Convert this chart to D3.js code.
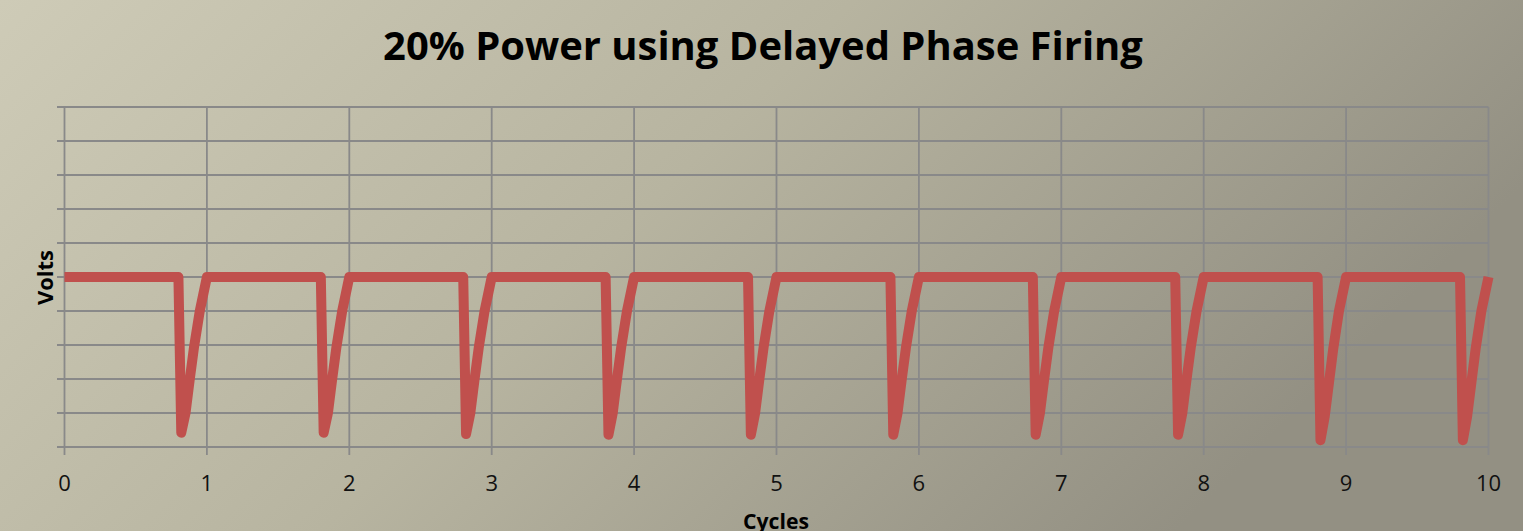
<!DOCTYPE html>
<html>
<head>
<meta charset="utf-8">
<script src="https://cdn.jsdelivr.net/npm/d3@7"></script>
<style>
  body { margin: 0; background: #b8b5a0; }
  svg { display: block; }
</style>
</head>
<body>
<svg id="chart" width="1523" height="531"></svg>
<script>
// waveform: time in cycles, volts on a 0..10 grid
var cycleTime = [0,
    0.80, 0.82, 0.85, 0.88, 0.91, 0.95, 1.00,
    1.80, 1.82, 1.85, 1.88, 1.91, 1.95, 2.00,
    2.80, 2.82, 2.85, 2.88, 2.91, 2.95, 3.00,
    3.80, 3.82, 3.85, 3.88, 3.91, 3.95, 4.00,
    4.80, 4.82, 4.85, 4.88, 4.91, 4.95, 5.00,
    5.80, 5.82, 5.85, 5.88, 5.91, 5.95, 6.00,
    6.80, 6.82, 6.85, 6.88, 6.91, 6.95, 7.00,
    7.80, 7.82, 7.85, 7.88, 7.91, 7.95, 8.00,
    8.80, 8.82, 8.85, 8.88, 8.91, 8.95, 9.00,
    9.80, 9.82, 9.85, 9.88, 9.91, 9.95, 10.00];
var volts = [5,
    5, 0.42, 1.0, 2.0, 2.95, 4.0, 5,
    5, 0.42, 1.0, 2.0, 2.95, 4.0, 5,
    5, 0.38, 1.0, 2.0, 2.95, 4.0, 5,
    5, 0.36, 1.0, 2.0, 2.95, 4.0, 5,
    5, 0.36, 1.0, 2.0, 2.95, 4.0, 5,
    5, 0.36, 1.0, 2.0, 2.95, 4.0, 5,
    5, 0.36, 1.0, 2.0, 2.95, 4.0, 5,
    5, 0.36, 1.0, 2.0, 2.95, 4.0, 5,
    5, 0.20, 0.9, 1.9, 2.9, 4.0, 5,
    5, 0.20, 0.9, 1.9, 2.9, 4.0, 5];
var xTicks = [0, 1, 2, 3, 4, 5, 6, 7, 8, 9, 10];
var yGrid = [0, 1, 2, 3, 4, 5, 6, 7, 8, 9, 10];

var titleText = "20% Power using Delayed Phase Firing";
var xTitle = "Cycles";
var yTitle = "Volts";

var svg = d3.select("#chart"),
    width = +svg.attr("width"),
    height = +svg.attr("height");

var margin = {top: 107, right: 34.5, bottom: 84, left: 64.5};

var x = d3.scaleLinear().domain([0, 10]).range([margin.left, width - margin.right]);
var y = d3.scaleLinear().domain([0, 10]).range([height - margin.bottom, margin.top]);

// background gradient
var defs = svg.append("defs");
var grad = defs.append("linearGradient")
    .attr("id", "bg")
    .attr("x1", 0).attr("y1", 0)
    .attr("x2", 1).attr("y2", 0.35);
grad.append("stop").attr("offset", "0%").attr("stop-color", "#cecbb7");
grad.append("stop").attr("offset", "50%").attr("stop-color", "#b7b4a0");
grad.append("stop").attr("offset", "100%").attr("stop-color", "#939083");

svg.append("rect")
    .attr("width", width).attr("height", height)
    .attr("fill", "url(#bg)");

var gridColor = "#898989";

// horizontal gridlines (ticks stick out to the left)
svg.append("g").attr("class", "ygrid")
    .selectAll("line")
    .data(yGrid)
    .enter().append("line")
    .attr("x1", margin.left - 7.5)
    .attr("x2", x(10))
    .attr("y1", function(d) { return y(d); })
    .attr("y2", function(d) { return y(d); })
    .attr("stroke", gridColor)
    .attr("stroke-width", 1.8);

// vertical gridlines with ticks below the axis
svg.append("g").attr("class", "xgrid")
    .selectAll("line")
    .data(xTicks)
    .enter().append("line")
    .attr("x1", function(d) { return x(d); })
    .attr("x2", function(d) { return x(d); })
    .attr("y1", y(10))
    .attr("y2", y(0) + 8)
    .attr("stroke", gridColor)
    .attr("stroke-width", 1.8);

// x tick labels
svg.append("g").attr("class", "xlabels")
    .selectAll("text")
    .data(xTicks)
    .enter().append("text")
    .attr("x", function(d) { return x(d); })
    .attr("y", 490.5)
    .attr("text-anchor", "middle")
    .style("font-family", "'Open Sans', sans-serif")
    .style("font-size", "22px")
    .attr("fill", "#111")
    .text(function(d) { return d; });

// the waveform
var points = cycleTime.map(function(t, i) { return [t, volts[i]]; });
var line = d3.line()
    .x(function(d) { return x(d[0]); })
    .y(function(d) { return y(d[1]); });

svg.append("path")
    .datum(points)
    .attr("d", line)
    .attr("fill", "none")
    .attr("stroke", "#c0504d")
    .attr("stroke-width", 10)
    .attr("stroke-linejoin", "round")
    .attr("stroke-linecap", "butt");

// shrink/grow a text so it spans the wanted width
function fitWidth(sel, wanted) {
    var w = sel.node().getComputedTextLength();
    var fs = parseFloat(sel.style("font-size"));
    sel.style("font-size", (fs * wanted / w) + "px");
}

var title = svg.append("text")
    .attr("x", 763)
    .attr("y", 60)
    .attr("text-anchor", "middle")
    .style("font-family", "'Open Sans', sans-serif")
    .style("font-weight", "bold")
    .style("font-size", "38px")
    .attr("fill", "#000")
    .text(titleText);
fitWidth(title, 760);

var xt = svg.append("text")
    .attr("x", 776)
    .attr("y", 529)
    .attr("text-anchor", "middle")
    .style("font-family", "'Open Sans', sans-serif")
    .style("font-weight", "bold")
    .style("font-size", "21px")
    .attr("fill", "#000")
    .text(xTitle);
fitWidth(xt, 66);

var yt = svg.append("text")
    .attr("transform", "translate(53,277.5) rotate(-90)")
    .attr("text-anchor", "middle")
    .style("font-family", "'Open Sans', sans-serif")
    .style("font-weight", "bold")
    .style("font-size", "21px")
    .attr("fill", "#000")
    .text(yTitle);
fitWidth(yt, 55);
</script>
</body>
</html>
